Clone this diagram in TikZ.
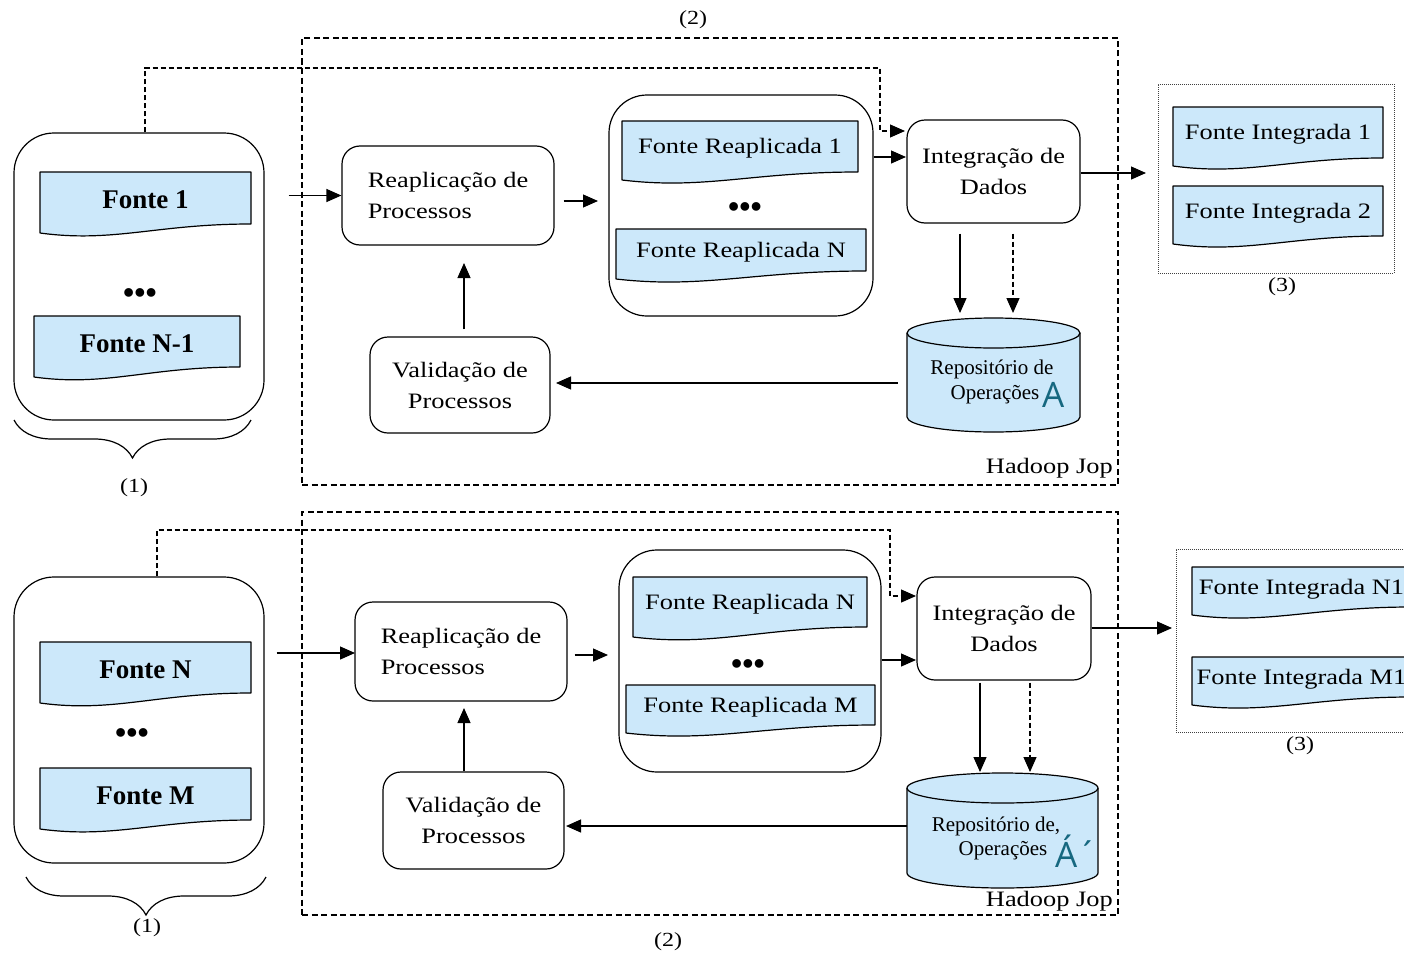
\documentclass[tikz,border=0pt]{standalone}
\usepackage{fontspec}
\setmainfont{Liberation Serif}
\newfontfamily\boxfont[FakeStretch=1.2]{Liberation Serif}
\newfontfamily\tagfont{Open Sans}
\usetikzlibrary{arrows.meta,calc,decorations.pathreplacing}

\definecolor{docblue}{RGB}{204,232,250}
\definecolor{tealink}{RGB}{22,104,128}

\tikzset{
  ln/.style={line width=1.2pt},
  procbox/.style={draw, ln, rounded corners=18pt, inner sep=0pt, align=center,
    font=\boxfont\fontsize{22}{31}\selectfont},
  groupbox/.style={draw, ln, rounded corners=40pt, inner sep=0pt},
  jobbox/.style={draw, line width=1.3pt, dash pattern=on 6pt off 3.5pt, inner sep=0pt},
  outbox/.style={draw=black!75, line width=0.9pt, dash pattern=on 1pt off 1pt, inner sep=0pt},
  docpath/.style={fill=docblue, draw, ln, line join=round},
  doclabel/.style={inner sep=0pt, font=\boxfont\fontsize{22}{26}\selectfont},
  srclabel/.style={inner sep=0pt, font=\bfseries\fontsize{27}{30}\selectfont},
  dotsrow/.style={inner sep=0pt, font=\bfseries\fontsize{32}{32}\selectfont},
  numlabel/.style={inner sep=0pt, font=\boxfont\fontsize{20}{22}\selectfont},
  hjlabel/.style={inner sep=0pt, anchor=east, font=\boxfont\fontsize{22}{24}\selectfont},
  repotext/.style={inner sep=0pt, font=\fontsize{21}{24}\selectfont},
  tealtag/.style={inner sep=0pt, anchor=base west, text=tealink, font=\tagfont\fontsize{35}{35}\selectfont},
  arr/.style={ln, -{Triangle[length=15pt,width=13pt]}},
  dasharr/.style={arr, dash pattern=on 5pt off 3pt},
  bracestyle/.style={ln, decorate, decoration={brace, amplitude=38pt}},
}

% document symbol: flat top, wavy bottom; label node placed on it
% #1 name, #2 left x, #3 top y, #4 right x, #5 left bottom y, #6 right bottom y, #7 label style, #8 text
\newcommand\docshape[8]{%
  \path[docpath] (#2,#3) -- (#4,#3) -- (#4,#6)
    .. controls +({-0.45*(#4-#2)},0) and +({0.35*(#4-#2)},10) .. (#2,#5) -- cycle;
  \node[#7] (#1) at ({(#2+#4)/2},{(#3+#6)/2+2}) {#8};}

% database cylinder: #1 left x, #2 right x, #3 top rim centre y, #4 bottom rim centre y, #5 rim half height
\newcommand\cylshape[5]{%
  \pgfmathsetmacro\crx{(#2-#1)/2}%
  \pgfmathsetmacro\ccx{(#2+#1)/2}%
  \pgfmathsetmacro\ckx{0.5523*\crx}%
  \pgfmathsetmacro\cky{0.5523*#5}%
  \path[docpath] (#1,#3) -- (#1,#4)
    .. controls (#1,#4+\cky) and (\ccx-\ckx,#4+#5) .. (\ccx,#4+#5)
    .. controls (\ccx+\ckx,#4+#5) and (#2,#4+\cky) .. (#2,#4)
    -- (#2,#3)
    .. controls (#2,#3-\cky) and (\ccx+\ckx,#3-#5) .. (\ccx,#3-#5)
    .. controls (\ccx-\ckx,#3-#5) and (#1,#3-\cky) .. (#1,#3) -- cycle;
  \draw[ln] (#1,#3) .. controls (#1,#3+\cky) and (\ccx-\ckx,#3+#5) .. (\ccx,#3+#5)
    .. controls (\ccx+\ckx,#3+#5) and (#2,#3+\cky) .. (#2,#3);}

\begin{document}
\begin{tikzpicture}[x=1pt,y=-1pt]
\useasboundingbox (0,0) rectangle (1404,958);
\fill[white] (0,0) rectangle (1404,958);
\clip (0,0) rectangle (1404,958);

% ================= first job =================
\node[jobbox, minimum width=816pt, minimum height=447pt] (job1) at (710,261.5) {};
\node[numlabel] (lblA2) at (693,20) {(2)};
\node[hjlabel] (hj1) at (1113,468) {Hadoop Jop};

% sources
\node[groupbox, minimum width=250pt, minimum height=287pt] (src1) at (139,276.5) {};
\docshape{f1}{40}{172}{251}{233}{224}{srclabel}{Fonte 1}
\node[dotsrow] (dots1) at (140,296) {•••};
\docshape{fn1}{34}{316}{240}{377}{367}{srclabel}{Fonte N-1}
\draw[bracestyle] (251,420) -- (14,420);
\node[numlabel] (lblA1) at (134,488) {(1)};

% processing
\node[procbox, align=left, minimum width=212pt, minimum height=99pt] (rep1) at (448,195.5) {Reaplicação de\\Processos};
\node[procbox, minimum width=180pt, minimum height=96pt] (val1) at (460,385) {Validação de\\Processos};
\node[groupbox, rounded corners=38pt, minimum width=264pt, minimum height=221pt] (cont1) at (741,205.5) {};
\docshape{fr1}{622}{121}{858}{180}{172}{doclabel}{Fonte Reaplicada 1}
\node[dotsrow] (dots2) at (745,210) {•••};
\docshape{frn}{616}{229}{866}{279}{271}{doclabel}{Fonte Reaplicada N}
\node[procbox, minimum width=173pt, minimum height=103pt] (integ1) at (993.5,171.5) {Integração de\\Dados};

% repository
\cylshape{907}{1080}{333}{417}{15}
\node[inner sep=0pt, minimum width=173pt, minimum height=114pt] (repo1) at (993.5,375) {};
\node[repotext] (repoA1) at (992,369) {Repositório de};
\node[repotext] (repoA2) at (995,395) {Operações};
\node[tealtag] (tagA) at (1042,407) {A};

% integrated output
\node[outbox, minimum width=236pt, minimum height=189pt] (out1) at (1276,178.5) {};
\docshape{fi1}{1173}{107}{1383}{166}{158}{doclabel}{Fonte Integrada 1}
\docshape{fi2}{1173}{186}{1383}{244}{236}{doclabel}{Fonte Integrada 2}
\node[numlabel] (lblA3) at (1282,287) {(3)};

% connectors
\coordinate (k1) at (880,68);
\coordinate (k1end) at (905,131);
\draw[dasharr] ([xshift=6pt]src1.north) |- (k1) |- (k1end);
\draw[arr, shorten <=24pt] (rep1.west -| src1.east) -- (rep1.west);
\coordinate (c1in) at (598,201);
\draw[arr, shorten <=9pt] (rep1.east |- c1in) -- (c1in);
\coordinate (i1in) at (906,157);
\draw[arr] (cont1.east |- i1in) -- (i1in);
\coordinate (o1in) at (1146,173);
\draw[arr] (integ1.east |- o1in) -- (o1in);
\coordinate (r1a) at (960,313);
\coordinate (r1b) at (1013,313);
\draw[arr, shorten <=10pt] (integ1.south -| r1a) -- (r1a);
\draw[dasharr, shorten <=10pt] (integ1.south -| r1b) -- (r1b);
\coordinate (v1in) at (556,383);
\draw[arr, shorten <=9pt] (repo1.west |- v1in) -- (v1in);
\coordinate (u1) at (464,263);
\draw[arr, shorten <=7pt] (val1.north -| u1) -- (u1);

% ================= second job =================
\node[jobbox, minimum width=816pt, minimum height=403pt] (job2) at (710,713.5) {};
\node[numlabel] (lblB2) at (668,942) {(2)};
\node[hjlabel] (hj2) at (1113,901) {Hadoop Jop};

% sources
\node[groupbox, minimum width=250pt, minimum height=286pt] (src2) at (139,720) {};
\docshape{fnn}{40}{642}{251}{703}{693}{srclabel}{Fonte N}
\node[dotsrow] (dots3) at (132,736) {•••};
\docshape{fm}{40}{768}{251}{829}{820}{srclabel}{Fonte M}
\draw[bracestyle] (266,877) -- (26,877);
\node[numlabel] (lblB1) at (147,928) {(1)};

% processing
\node[procbox, align=left, minimum width=212pt, minimum height=99pt] (rep2) at (461,651.5) {Reaplicação de\\Processos};
\node[procbox, minimum width=181pt, minimum height=97pt] (val2) at (473.5,820.5) {Validação de\\Processos};
\node[groupbox, rounded corners=38pt, minimum width=262pt, minimum height=222pt] (cont2) at (750,661) {};
\docshape{frn2}{633}{577}{867}{637}{627}{doclabel}{Fonte Reaplicada N}
\node[dotsrow] (dots4) at (748,667) {•••};
\docshape{frm}{626}{685}{875}{733}{725}{doclabel}{Fonte Reaplicada M}
\node[procbox, minimum width=174pt, minimum height=103pt] (integ2) at (1004,628.5) {Integração de\\Dados};

% repository
\cylshape{907}{1098}{788}{873}{15}
\node[inner sep=0pt, minimum width=191pt, minimum height=115pt] (repo2) at (1002.5,830.5) {};
\node[repotext] (repoB1) at (996,826) {Repositório de,};
\node[repotext] (repoB2) at (1003,851) {Operações};
\node[tealtag] (tagB) at (1055,867) {Á´};

% integrated output
\node[outbox, minimum width=240pt, minimum height=183pt] (out2) at (1296,640.5) {};
\docshape{fin1}{1192}{567}{1411}{615}{607}{doclabel}{Fonte Integrada N1}
\docshape{fim1}{1192}{657}{1411}{705}{697}{doclabel}{Fonte Integrada M1}
\node[numlabel] (lblB3) at (1300,746) {(3)};

% connectors
\coordinate (k2) at (890,530);
\coordinate (k2end) at (916,596);
\draw[dasharr] ([xshift=18pt]src2.north) |- (k2) |- (k2end);
\coordinate (r2in) at (355,653);
\draw[arr, shorten <=12pt] (src2.east |- r2in) -- (r2in);
\coordinate (c2in) at (608,655);
\draw[arr, shorten <=7pt] (rep2.east |- c2in) -- (c2in);
\coordinate (i2in) at (916,660);
\draw[arr] (cont2.east |- i2in) -- (i2in);
\coordinate (o2in) at (1172,628);
\draw[arr] (integ2.east |- o2in) -- (o2in);
\coordinate (r2a) at (980,772);
\coordinate (r2b) at (1030,772);
\draw[arr, shorten <=2pt] (integ2.south -| r2a) -- (r2a);
\draw[dasharr, shorten <=2pt] (integ2.south -| r2b) -- (r2b);
\coordinate (v2in) at (566,826);
\draw[arr] (repo2.west |- v2in) -- (v2in);
\coordinate (u2) at (464,708);
\draw[arr] (val2.north -| u2) -- (u2);
\end{tikzpicture}
\end{document}
